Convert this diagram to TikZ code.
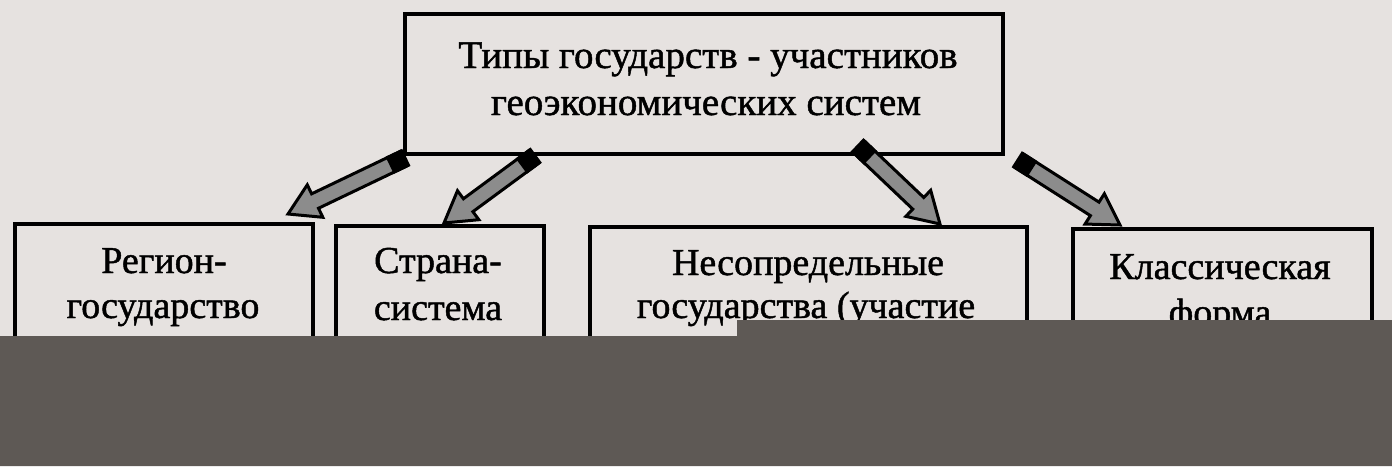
\documentclass[tikz,border=0pt]{standalone}
\usepackage{fontspec}
\setmainfont{Liberation Serif}[BoldFont={Liberation Serif}, BoldFeatures={FakeBold=1.2}]
\usetikzlibrary{calc}
\definecolor{paper}{HTML}{E6E2E0}
\definecolor{redact}{HTML}{5E5955}
\definecolor{arrfill}{HTML}{8C8C8C}
\newcommand{\blockarr}[2]{%
  \coordinate (H) at ($(#2)!30pt!(#1)$);
  \coordinate (T) at ($(#1)!17pt!(#2)$);
  \filldraw[fill=arrfill, draw=black, line width=3pt, line join=miter]
    ($(#1)!8pt!90:(#2)$) -- ($(H)!8pt!90:(#2)$) -- ($(H)!18pt!90:(#2)$) -- (#2)
    -- ($(H)!18pt!-90:(#2)$) -- ($(H)!8pt!-90:(#2)$) -- ($(#1)!8pt!-90:(#2)$) -- cycle;
  \fill[black] ($(#1)!9.5pt!90:(#2)$) -- ($(T)!9.5pt!90:(#2)$) -- ($(T)!9.5pt!-90:(#2)$) -- ($(#1)!9.5pt!-90:(#2)$) -- cycle;
}
\begin{document}
\begin{tikzpicture}[x=1pt,y=-1pt,
  box/.style={draw=black, line width=3.5pt, inner sep=0pt},
  ttxt/.style={font=\fontsize{39}{47}\selectfont\bfseries, anchor=base, inner sep=0pt},
  btxt/.style={font=\fontsize{38}{45}\selectfont\bfseries, anchor=base, inner sep=0pt}]
\fill[paper] (0,0) rectangle (1392,466);
\useasboundingbox (0,0) rectangle (1392,466);

\node[box, minimum width=598pt, minimum height=140pt] (top) at (704,84) {};
\node[ttxt] (t0a) at (708,68) {Типы государств - участников};
\node[ttxt] (t0b) at (706,115) {геоэкономических систем};

\node[box, minimum width=298pt, minimum height=220pt, anchor=north west] (b1) at (13,222) {};
\node[box, minimum width=208pt, minimum height=220pt, anchor=north west] (b2) at (334,224) {};
\node[box, minimum width=437pt, minimum height=220pt, anchor=north west] (b3) at (588,225) {};
\node[box, minimum width=299pt, minimum height=220pt, anchor=north west] (b4) at (1071,227) {};

\node[btxt] (t1a) at (164,273) {Регион-};
\node[btxt] (t1b) at (163,318) {государство};
\node[btxt] (t2a) at (438,273) {Страна-};
\node[btxt] (t2b) at (438,320) {система};
\node[btxt] (t3a) at (808,275) {Несопредельные};
\node[btxt] (t3b) at (806,318) {государства (участие};
\node[btxt] (t4a) at (1220,279) {Классическая};
\node[btxt] (t4b) at (1220,325) {форма};

\coordinate (a1s) at (405,158); \coordinate (a1e) at (288,214);
\coordinate (a2s) at (535,156); \coordinate (a2e) at (444,223);
\coordinate (a3s) at (858,146); \coordinate (a3e) at (940,224);
\coordinate (a4s) at (1018,160); \coordinate (a4e) at (1120,225);
\blockarr{a1s}{a1e}
\blockarr{a2s}{a2e}
\blockarr{a3s}{a3e}
\blockarr{a4s}{a4e}

\fill[redact] (0,336) -- (737,336) -- (737,320) -- (1392,320) -- (1392,466) -- (0,466) -- cycle;
\end{tikzpicture}
\end{document}
